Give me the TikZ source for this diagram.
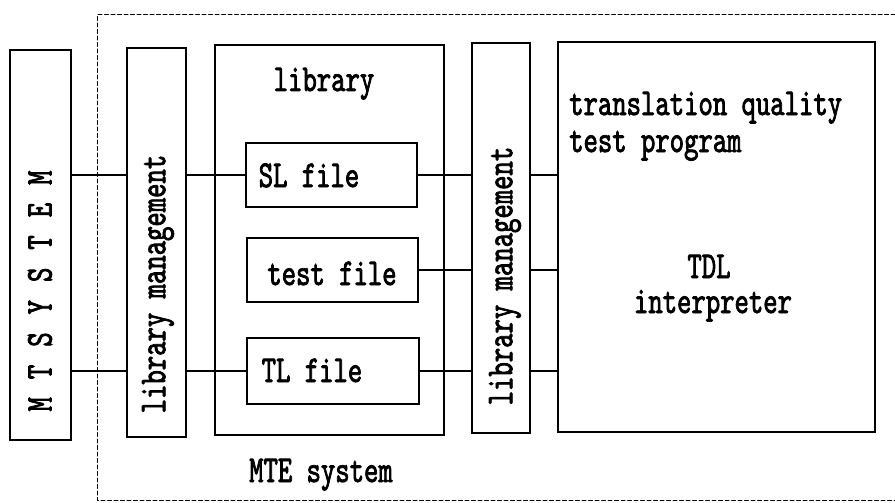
\documentclass[tikz,border=0pt]{standalone}
\usepackage{fontspec}
\newfontfamily\scanfont[FakeStretch=0.72,FakeBold=2]{lmmono10-regular.otf}
\usetikzlibrary{positioning}

\begin{document}
\begin{tikzpicture}[x=1pt,y=-1pt,line cap=round,
    box/.style={draw,line width=1.4pt,inner sep=0pt},
    txt/.style={inner sep=0pt,font=\scanfont\fontsize{38}{37}\selectfont},
    link/.style={line width=1.3pt},
    border/.style={line width=1pt,dash pattern=on 4pt off 2.5pt}]

   \useasboundingbox (0,0) rectangle (895,503);

   % System border (open to the right)
   \draw[border] (895,15) -- (97,15) -- (97,500) -- (895,500);

   % Boxes
   \node[box,minimum width=61pt,minimum height=390pt]  (mt)   at (40.5,245)  {};
   \node[box,minimum width=59pt,minimum height=389pt]  (lmA)  at (156.5,242.5) {};
   \node[box,minimum width=229pt,minimum height=390pt] (lib)  at (329.5,240) {};
   \node[box,minimum width=58pt,minimum height=390pt]  (lmB)  at (501,238)   {};
   \node[box,minimum width=317pt,minimum height=390pt] (tdl)  at (716.5,237) {};

   % Files inside the library
   \node[box,minimum width=171pt,minimum height=64pt] (sl)   at (331.5,175) {};
   \node[box,minimum width=171pt,minimum height=64pt] (test) at (332.5,270) {};
   \node[box,minimum width=172pt,minimum height=66pt] (tl)   at (333,371)   {};

   % Labels
   \node[txt,anchor=base] (slname)   at (309,187) {SL file};
   \node[txt,anchor=base] (testname) at (332,285) {test file};
   \node[txt,anchor=base] (tlname)   at (312,382) {TL file};
   \node[txt,rotate=90] (mtname)  at (40,291)
        {\spaceskip=18pt M T S Y S T E M};
   \node[txt,rotate=90] (lmAname) at (158,284) {library management};
   \node[txt,rotate=90] (lmBname) at (505,276) {library management};
   \node[txt,anchor=base] (libname) at (324,91) {library};
   \node[txt,anchor=base west,align=left] (tqname) at (569,152)
        {translation quality\\test program};
   \node[txt,anchor=base] (tdlname) at (709,278) {TDL};
   \node[txt,anchor=base] (intname) at (713,313) {interpreter};
   \node[txt,anchor=base] (mtename) at (321,482) {MTE system};

   % Links
   \draw[link] (mt.east |- sl)   -- (lmA.west |- sl);
   \draw[link] (mt.east |- tl)   -- (lmA.west |- tl);
   \draw[link] (lmA.east |- sl)  -- (sl.west);
   \draw[link] (lmA.east |- tl)  -- (tl.west);
   \foreach \f in {sl,test,tl} {
       \draw[link] (\f.east) -- (lmB.west |- \f);
       \draw[link] (lmB.east |- \f) -- (tdl.west |- \f);
   }

\end{tikzpicture}
\end{document}
